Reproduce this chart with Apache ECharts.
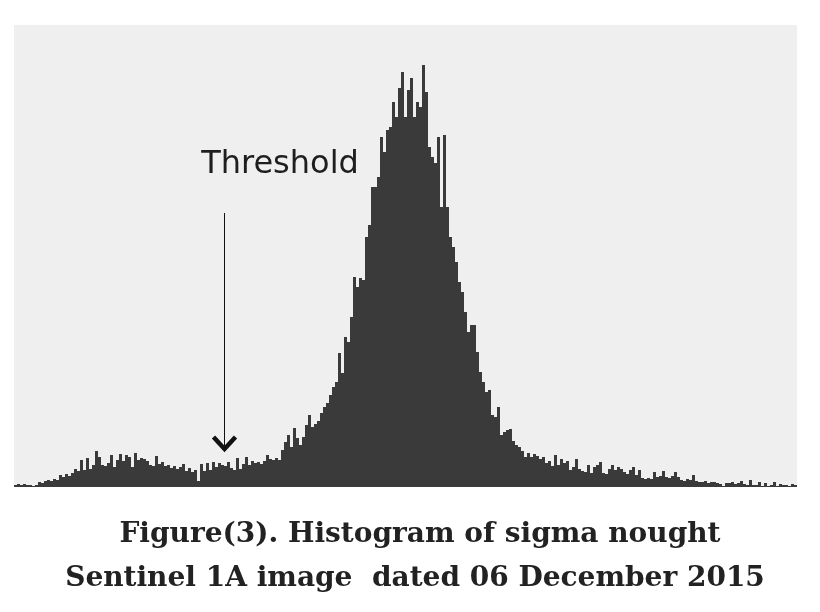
<!DOCTYPE html>
<html><head><meta charset="utf-8">
<script src="https://cdn.jsdelivr.net/npm/echarts@6/dist/echarts.min.js"></script>
<style>html,body{margin:0;padding:0;background:#fff}#c{width:820px;height:612px}</style>
</head><body><div id="c"></div>
<script>
// Histogram bin counts (relative frequency), left to right
const counts = [
 2,3,2,3,2,2,1,2, 5,4,6, 7,6,8,7, 12,10,13,11,14,
 18,16,27,17,29,18,22,36,30,22,21,24,32,20,27,33,26,32,30,20,
 34,27,29,28,26,22,21,31,23,25,21,22,19,21,18,20,23,16,19,15,
 17,6,23,16,24,17,25,20,24,22,21,25,19,17,29,18,23,30,22,26,
 24,25,23,26,32,28,27,29,27,37,45,52,40,59,49,42,50,62,72,60,
 63,66,74,80,84,92,100,105,134,114,150,145,170,210,200,209,207,250,262,300,
 300,310,350,335,357,360,385,370,399,415,370,397,409,370,385,380,422,395,340,330,
 324,350,280,352,280,250,240,225,205,195,175,155,162,162,135,115,105,95,97,72,
 70,80,52,55,57,58,46,42,40,36,30,34,30,33,31,28,30,24,26,21,
 32,22,28,24,26,17,20,28,18,16,15,22,14,20,22,25,14,13,18,22,
 17,20,18,15,13,17,20,12,17,9,8,9,8,15,10,11,16,10,9,11,
 15,10,7,6,8,7,12,6,5,5,6,4,5,5,4,3,1,4,4,5,
 3,4,6,3,2,7,2,2,5,1,4,1,2,5,1,3,2,2,1,3,2
];
const bins = counts.map((_, i) => String(i + 1));
const thresholdBin = 70;          // bin index where the threshold arrow points
const thresholdLabel = 'Threshold';
const captionLines = ['Figure(3). Histogram of sigma nought', 'Sentinel 1A image  dated 06 December 2015'];

const chart = echarts.init(document.getElementById('c'));
chart.setOption({
  animation: false,
  backgroundColor: '#ffffff',
  grid: { left: 14, right: 23, top: 25, bottom: 125, show: true, backgroundColor: '#efefef', borderWidth: 0 },
  xAxis: { type: 'category', data: bins, show: false, boundaryGap: true },
  yAxis: { type: 'value', min: 0, max: 462, show: false },
  series: [{
    type: 'bar', data: counts, barWidth: '100%', barCategoryGap: '0%',
    itemStyle: { color: '#3a3a3a' }, silent: true
  }]
});

const pBase = chart.convertToPixel({ gridIndex: 0 }, [thresholdBin, 0]);
const pTop = chart.convertToPixel({ gridIndex: 0 }, [thresholdBin, 274]);
const pTip = chart.convertToPixel({ gridIndex: 0 }, [thresholdBin, 38]);
const ax = Math.round(pBase[0]) - 1.5;
chart.setOption({
  graphic: [
    { type: 'line', shape: { x1: ax, y1: pTop[1], x2: ax, y2: pTip[1] - 2 }, style: { stroke: '#111', lineWidth: 1 }, z: 10 },
    { type: 'polyline', shape: { points: [[ax - 11, pTip[1] - 12], [ax, pTip[1]], [ax + 11, pTip[1] - 12]] },
      style: { stroke: '#111', lineWidth: 4.5, fill: null, lineJoin: 'miter' }, z: 10 },
    { type: 'text', x: 280, y: 165, z: 10,
      style: { text: thresholdLabel, font: '32px "DejaVu Sans"', fill: '#1e1e1e', align: 'center', verticalAlign: 'middle' } },
    { type: 'text', x: 420, y: 535, z: 10,
      style: { text: captionLines[0], font: 'bold 28px "DejaVu Serif"', fill: '#222', align: 'center', verticalAlign: 'middle' } },
    { type: 'text', x: 415, y: 579, z: 10,
      style: { text: captionLines[1], font: 'bold 28px "DejaVu Serif"', fill: '#222', align: 'center', verticalAlign: 'middle' } }
  ]
});
</script></body></html>
